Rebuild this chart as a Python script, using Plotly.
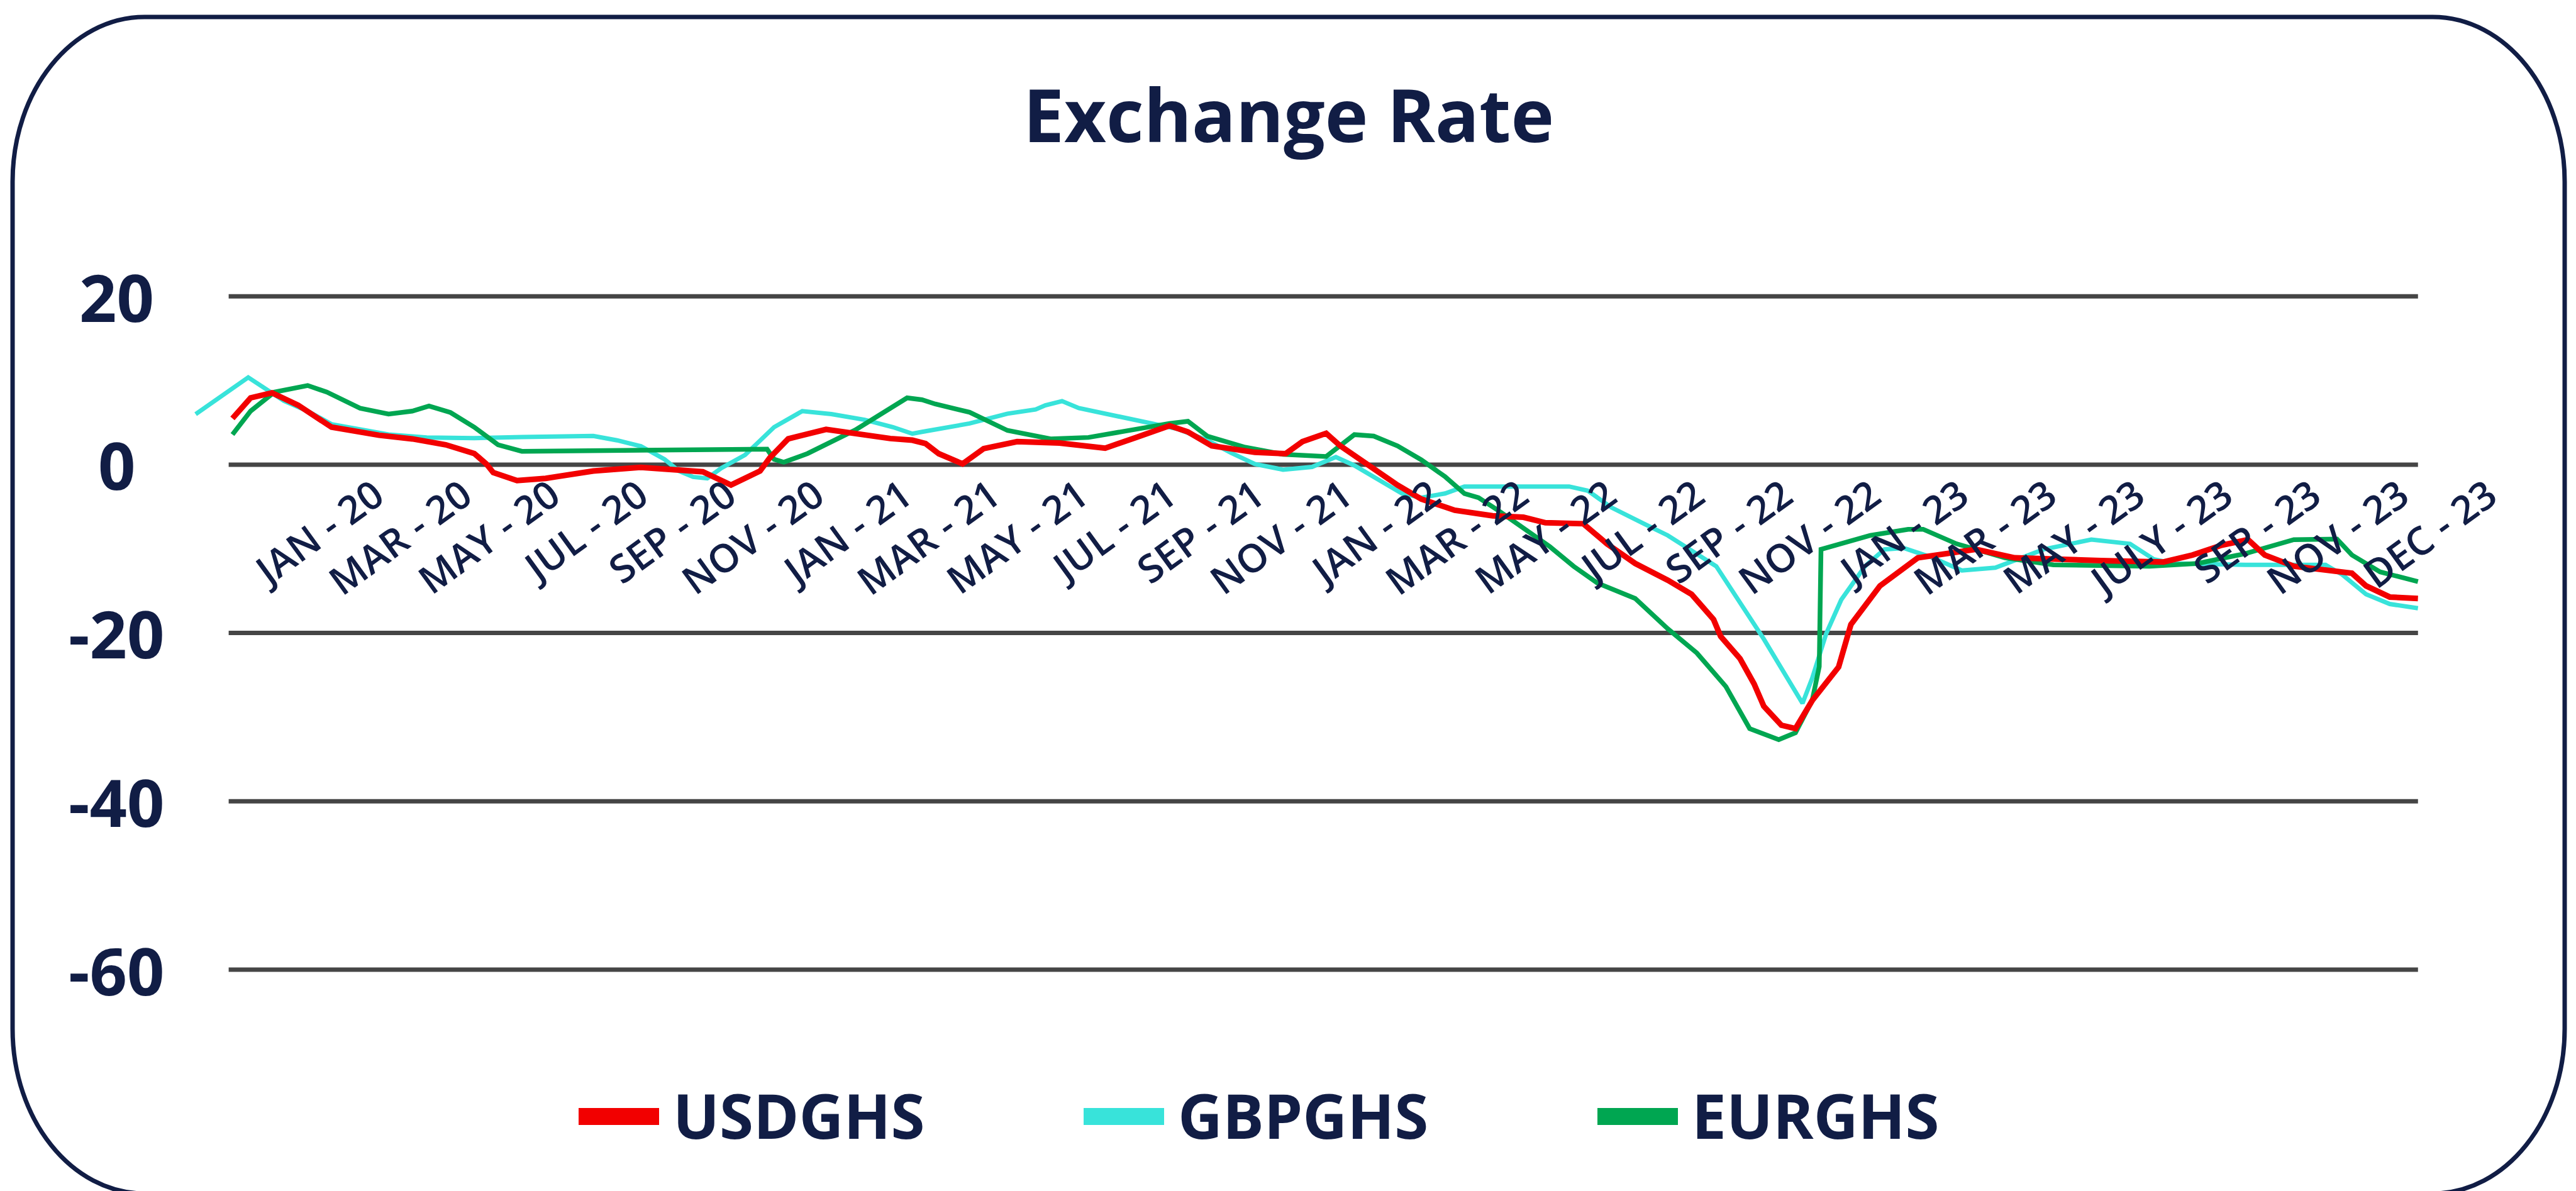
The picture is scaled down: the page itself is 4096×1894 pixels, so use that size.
import plotly.graph_objects as go

# ---------------- data ----------------
tick_labels = ["JAN - 20", "MAR - 20", "MAY - 20", "JUL - 20", "SEP - 20", "NOV - 20",
               "JAN - 21", "MAR - 21", "MAY - 21", "JUL - 21", "SEP - 21", "NOV - 21",
               "JAN - 22", "MAR - 22", "MAY - 22", "JUL - 22", "SEP - 22", "NOV - 22",
               "JAN - 23", "MAR - 23", "MAY - 23", "JULY - 23", "SEP - 23", "NOV - 23",
               "DEC - 23"]
tick_pos = list(range(len(tick_labels)))

y_ticks = [20, 0, -20, -40, -60]

usd_x = [-1.622, -1.416, -1.173, -0.876, -0.497, 0.043, 0.42, 0.8, 1.124, 1.26, 1.34, 1.61,
         1.935, 2.476, 3.016, 3.394, 3.72, 4.04, 4.37, 4.48, 4.69, 5.12, 5.56, 5.85, 6.1,
         6.25, 6.4, 6.67, 6.91, 7.29, 7.77, 8.29, 8.64, 9.02, 9.23, 9.5, 9.99, 10.34, 10.53,
         10.8, 10.96, 11.29, 11.61, 11.88, 12.26, 12.69, 13.04, 13.29, 13.72, 13.99, 14.31,
         14.68, 14.95, 15.2, 15.28, 15.5, 15.66, 15.77, 15.97, 16.13, 16.32, 16.62, 16.76,
         17.09, 17.52, 18.18, 18.62, 19.6, 20.31, 20.64, 20.97, 21.27, 21.46, 21.79, 22.45,
         22.61, 22.88, 23.2]
usd_v = [5.49, 7.93, 8.53, 7.06, 4.45, 3.49, 3.06, 2.36, 1.32, 0.1, -0.94, -1.89,
         -1.63, -0.76, -0.33, -0.59, -0.85, -2.42, -0.76, 0.8, 3.06, 4.19, 3.49, 3.1, 2.9,
         2.5, 1.3, 0.1, 1.9, 2.73, 2.56, 1.96, 3.23, 4.62, 3.89, 2.23, 1.46, 1.3, 2.73,
         3.72, 2.23, -0.1, -2.43, -4.09, -5.42, -6.08, -6.25, -6.91, -7.02, -9.41, -11.74,
         -13.73, -15.4, -18.4, -20.4, -23.04, -26.04, -28.7, -30.96, -31.36, -28.03, -24.04, -18.99,
         -14.4, -11.07, -10.07, -11.07, -11.4, -11.57, -10.74, -9.58, -8.91, -10.74, -12.07, -12.9,
         -14.4, -15.73, -15.9]

gbp_x = [-2.04, -1.443, -1.038, -0.768, -0.497, -0.227, 0.151, 0.584, 1.124, 1.665, 2.476,
         2.746, 3.016, 3.286, 3.448, 3.61, 3.77, 3.93, 4.2, 4.53, 4.85, 5.18, 5.56, 5.88, 6.1,
         6.21, 6.75, 7.18, 7.5, 7.61, 7.8, 7.99, 8.37, 8.8, 9.12, 9.45, 9.72, 9.99, 10.31,
         10.64, 10.91, 11.12, 11.39, 11.66, 11.88, 12.15, 12.37, 12.69, 13.07, 13.56, 13.77,
         14.04, 14.42, 14.68, 15.23, 15.77, 16.21, 16.32, 16.48, 16.65, 16.92, 17.14, 17.36,
         17.69, 18.02, 18.4, 18.95, 19.49, 19.93, 20.2, 20.42, 21.24, 22.15, 22.34, 22.61,
         22.88, 23.2]
gbp_v = [6.0, 10.36, 7.58, 6.36, 4.8, 4.28, 3.58, 3.23, 3.15, 3.27, 3.41,
         2.89, 2.19, 0.63, -0.76, -1.46, -1.63, -0.42, 1.15, 4.45, 6.36, 6.0, 5.32, 4.45, 3.67,
         3.89, 4.89, 6.05, 6.55, 7.05, 7.55, 6.72, 5.89, 5.05, 4.22, 2.89, 1.4, 0.07, -0.6,
         -0.27, 0.9, -0.1, -1.76, -3.43, -3.92, -3.43, -2.6, -2.6, -2.6, -2.6, -3.09,
         -5.09, -7.08, -8.41, -12.07, -20.71, -28.36, -25.37, -20.05, -16.06, -12.07, -10.07, -9.91,
         -11.07, -12.57, -12.24, -10.07, -8.91, -9.41, -11.24, -11.74, -11.9, -11.9, -13.07, -15.4,
         -16.56, -17.06]

eur_x = [-1.622, -1.416, -1.146, -0.768, -0.551, -0.389, -0.173, 0.151, 0.42, 0.61, 0.854,
         1.124, 1.394, 1.665, 2.476, 3.286, 4.45, 4.53, 4.64, 4.91, 5.45, 6.04, 6.21, 6.36,
         6.75, 7.18, 7.67, 8.1, 8.64, 9.02, 9.23, 9.45, 9.88, 10.31, 10.8, 11.12, 11.34,
         11.61, 11.88, 12.15, 12.37, 12.53, 12.75, 13.02, 13.34, 13.61, 13.88, 14.31, 14.53,
         14.68, 15.01, 15.34, 15.61, 15.94, 16.13, 16.32, 16.40, 16.42, 16.98, 17.41, 17.58,
         17.96, 18.51, 19.06, 20.15, 20.7, 21.24, 21.79, 22.28, 22.45, 22.77, 23.2]
eur_v = [3.58, 6.36, 8.62, 9.4, 8.62, 7.84, 6.71, 6.01, 6.36, 6.97, 6.19,
         4.45, 2.36, 1.58, 1.67, 1.76, 1.84, 0.63, 0.28, 1.32, 4.1, 7.93, 7.7, 7.2,
         6.22, 4.06, 3.06, 3.23, 4.22, 4.89, 5.15, 3.39, 2.06, 1.23, 0.96, 3.56, 3.39,
         2.23, 0.57, -1.43, -3.43, -3.92, -5.42, -7.42, -9.74, -12.07, -14.07, -15.9, -18.05,
         -19.5, -22.38, -26.37, -31.36, -32.68, -31.85, -28.03, -24.0, -10.07, -8.41, -7.68, -7.68,
         -9.41, -11.07, -11.9, -12.07, -11.74, -10.57, -8.91, -8.84, -10.74, -12.74, -13.9]

series_names = ["USDGHS", "GBPGHS", "EURGHS"]

# ---------------- styling / geometry ----------------
PAGE_W, PAGE_H = 4096, 1894
OFF = 8                      # default body margin of the html page
WF, HF = PAGE_W - OFF, PAGE_H - OFF
S = PAGE_W / 5869.0
NAVY = "#111d45"
COL_USD = "#f20000"
COL_GBP = "#38e3da"
COL_EUR = "#00a651"
FONT = "Open Sans"

X0 = 855 * S          # page pixel of x = 0
XU = 200.6 * S        # pixels per x unit
Y0 = 1058.7 * S       # page pixel of value 0
YU = 19.18 * S        # pixels per value unit
xr = [-2.06, 24.3]
yr = [-70, 25]
grid_left = (521 - 855) / 200.6
grid_right = (5509 - 855) / 200.6


def px_x(x):
    return X0 + x * XU


def px_y(v):
    return Y0 - v * YU


def PX(p):
    return (p - OFF) / WF


def PY(p):
    return 1 - (p - OFF) / HF


xdom = [PX(px_x(xr[0])), PX(px_x(xr[1]))]
ydom = [PY(px_y(yr[0])), PY(px_y(yr[1]))]

fig = go.Figure()
fig.add_trace(go.Scatter(x=gbp_x, y=gbp_v, mode="lines", name=series_names[1],
                         line=dict(color=COL_GBP, width=7), showlegend=False))
fig.add_trace(go.Scatter(x=eur_x, y=eur_v, mode="lines", name=series_names[2],
                         line=dict(color=COL_EUR, width=7.5), showlegend=False))
fig.add_trace(go.Scatter(x=usd_x, y=usd_v, mode="lines", name=series_names[0],
                         line=dict(color=COL_USD, width=9), showlegend=False))

shapes = []
for v in y_ticks:
    shapes.append(dict(type="line", xref="x", yref="y", x0=grid_left, x1=grid_right, y0=v, y1=v,
                       line=dict(color="#454545", width=7), layer="below"))


def rrect(l, t, r, b, rx, ry):
    k = 0.5523
    X, Y = PX, PY
    return (f"M {X(l+rx)},{Y(t)} L {X(r-rx)},{Y(t)} "
            f"C {X(r-rx+k*rx)},{Y(t)} {X(r)},{Y(t+ry-k*ry)} {X(r)},{Y(t+ry)} "
            f"L {X(r)},{Y(b-ry)} "
            f"C {X(r)},{Y(b-ry+k*ry)} {X(r-rx+k*rx)},{Y(b)} {X(r-rx)},{Y(b)} "
            f"L {X(l+rx)},{Y(b)} "
            f"C {X(l+rx-k*rx)},{Y(b)} {X(l)},{Y(b-ry+k*ry)} {X(l)},{Y(b-ry)} "
            f"L {X(l)},{Y(t+ry)} "
            f"C {X(l)},{Y(t+ry-k*ry)} {X(l+rx-k*rx)},{Y(t)} {X(l+rx)},{Y(t)} Z")


shapes.append(dict(type="path", xref="paper", yref="paper",
                   path=rrect(20, 27, 4078, 1898, 210, 262),
                   line=dict(color=NAVY, width=7)))

annotations = []
for v in y_ticks:
    annotations.append(dict(xref="paper", yref="y", x=PX(185), y=v, text=str(v),
                            showarrow=False, xanchor="center", yanchor="middle",
                            font=dict(family=FONT, size=104, color=NAVY, weight="bold")))

annotations.append(dict(xref="paper", yref="paper", x=PX(2049), y=PY(181), text="Exchange Rate",
                        showarrow=False, xanchor="center", yanchor="middle",
                        font=dict(family=FONT, size=116, color=NAVY, weight="bold")))

legend_items = [(series_names[0], COL_USD, 920), (series_names[1], COL_GBP, 1723),
                (series_names[2], COL_EUR, 2540)]
for name, col, left in legend_items:
    shapes.append(dict(type="rect", xref="paper", yref="paper",
                       x0=PX(left), x1=PX(left + 128), y0=PY(1789), y1=PY(1762),
                       fillcolor=col, line=dict(width=0)))
    annotations.append(dict(xref="paper", yref="paper", x=PX(left + 148), y=PY(1773),
                            text=name, showarrow=False, xanchor="left", yanchor="middle",
                            font=dict(family=FONT, size=98, color=NAVY, weight="bold")))

fig.update_layout(
    width=WF, height=HF,
    margin=dict(l=0, r=0, t=0, b=0, pad=0),
    paper_bgcolor="white", plot_bgcolor="rgba(0,0,0,0)",
    shapes=shapes, annotations=annotations,
    xaxis=dict(domain=xdom, range=xr, anchor="free", position=PY(Y0),
               tickmode="array", tickvals=tick_pos, ticktext=tick_labels, tickangle=-36,
               tickfont=dict(family=FONT, size=62, color=NAVY, weight=600),
               showgrid=False, zeroline=False, showline=False, ticks=""),
    yaxis=dict(domain=ydom, range=yr, showgrid=False, zeroline=False, showline=False,
               showticklabels=False, ticks=""),
)

fig.write_html("out.html")
